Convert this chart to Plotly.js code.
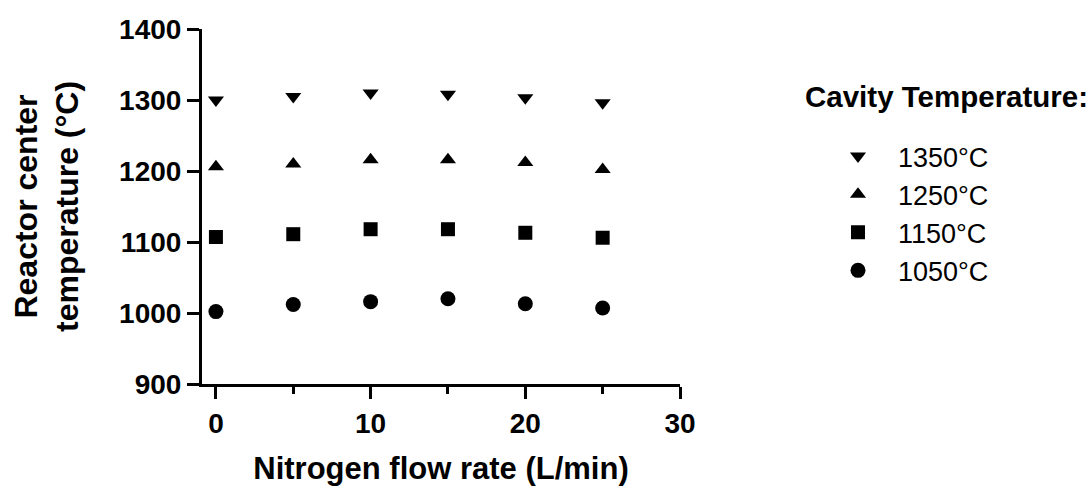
<!DOCTYPE html>
<html>
<head>
<meta charset="utf-8">
<script src="https://cdn.plot.ly/plotly-3.0.1.min.js"></script>
<style>html,body{margin:0;padding:0;background:#fff;}#chart{width:1091px;height:489px;}</style>
</head>
<body>
<div id="chart"></div>
<script>
// Data
const flowRate = [0, 5, 10, 15, 20, 25];
const seriesNames = ["1350°C", "1250°C", "1150°C", "1050°C"];
const temp1350 = [1300, 1305, 1310, 1308, 1303, 1296];
const temp1250 = [1206, 1210, 1216, 1216, 1212, 1202];
const temp1150 = [1107, 1111, 1118, 1118, 1113, 1106];
const temp1050 = [1002, 1012, 1016, 1020, 1013, 1007];
const xTicks = [0, 10, 20, 30];
const yTicks = [900, 1000, 1100, 1200, 1300, 1400];

const FONT = "Liberation Sans, Arial, Helvetica, sans-serif";
const symbols = ["triangle-down", "triangle-up", "square", "circle"];
const sizes = [14, 14, 14, 15];
const values = [temp1350, temp1250, temp1150, temp1050];

const traces = values.map((v, i) => ({
  type: "scatter",
  mode: "markers",
  x: flowRate,
  y: v,
  name: seriesNames[i],
  marker: {symbol: symbols[i], size: sizes[i], color: "#000", line: {width: 0}},
  cliponaxis: false
}));

const layout = {
  width: 1091,
  height: 489,
  margin: {l: 202, r: 411, t: 29, b: 105},
  paper_bgcolor: "#fff",
  plot_bgcolor: "#fff",
  font: {family: FONT, color: "#000"},
  showlegend: true,
  xaxis: {
    range: [-0.9, 30],
    tickvals: xTicks,
    ticktext: xTicks.map(String),
    ticks: "outside",
    ticklen: 12,
    tickwidth: 3,
    tickcolor: "#000",
    showline: true,
    linewidth: 3,
    linecolor: "#000",
    showgrid: false,
    zeroline: false,
    tickfont: {family: FONT, size: 28, weight: 700, color: "#000"},
    minor: {tickvals: [5, 15, 25], ticks: "outside", ticklen: 7, tickwidth: 3, tickcolor: "#000", showgrid: false},
    title: {text: "Nitrogen flow rate (L/min)", font: {family: FONT, size: 31, weight: 700, color: "#000"}, standoff: 20}
  },
  yaxis: {
    range: [900, 1400],
    tickvals: yTicks,
    ticktext: yTicks.map(String),
    ticks: "outside",
    ticklen: 12,
    tickwidth: 3,
    tickcolor: "#000",
    showline: true,
    linewidth: 3,
    linecolor: "#000",
    showgrid: false,
    zeroline: false,
    tickfont: {family: FONT, size: 28, weight: 700, color: "#000"},
    title: {text: "Reactor center<br>temperature (°C)", font: {family: FONT, size: 32, weight: 700, color: "#000"}, standoff: 31}
  },
  legend: {
    xref: "container",
    yref: "container",
    x: 818 / 1091,
    y: 1 - 132 / 489,
    xanchor: "left",
    yanchor: "top",
    itemwidth: 70,
    font: {family: FONT, size: 27, color: "#000"},
    bgcolor: "rgba(0,0,0,0)",
    borderwidth: 0,
    traceorder: "normal"
  },
  annotations: [{
    text: "Cavity Temperature:",
    xref: "paper",
    yref: "paper",
    x: (803 - 202) / 478,
    y: (384 - 97) / 355,
    xanchor: "left",
    yanchor: "middle",
    showarrow: false,
    font: {family: FONT, size: 29.5, weight: 700, color: "#000"}
  }]
};

Plotly.newPlot("chart", traces, layout, {displayModeBar: false, staticPlot: true});
</script>
</body>
</html>
